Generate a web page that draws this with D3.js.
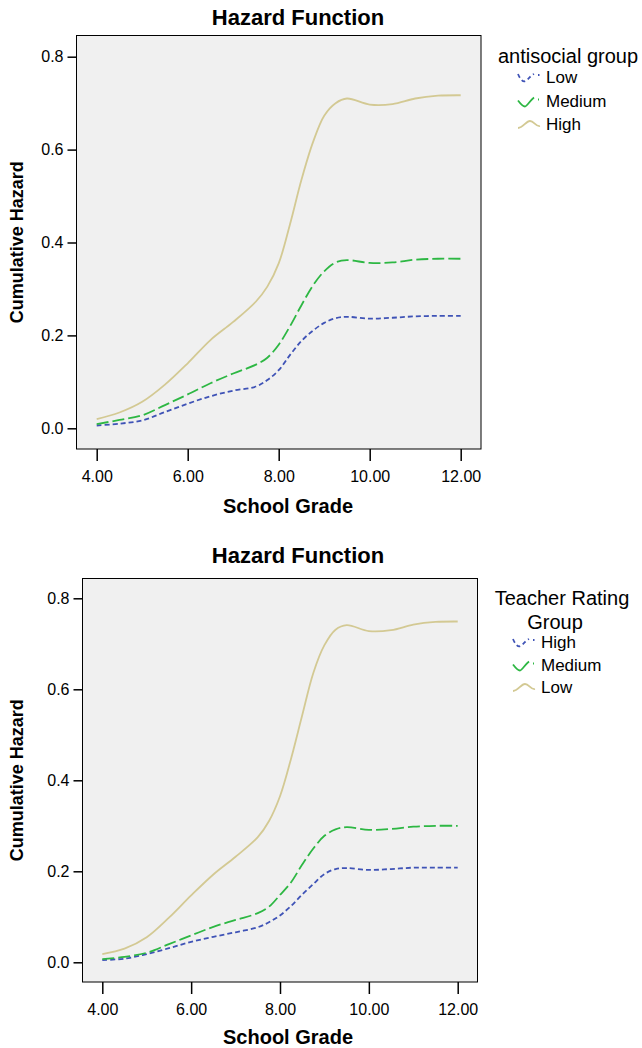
<!DOCTYPE html>
<html>
<head>
<meta charset="utf-8">
<script src="https://cdn.jsdelivr.net/npm/d3@7"></script>
<style>
  html, body { margin: 0; padding: 0; background: #fff; }
  svg { display: block; font-family: "Liberation Sans", Arial, Helvetica, sans-serif; }
</style>
</head>
<body>
<svg id="chart" width="642" height="1048"></svg>
<script>
// School grades at which the cumulative hazard is evaluated
const grades = [4, 4.5, 5, 5.5, 6, 6.5, 7, 7.5, 7.75, 8, 8.25, 8.5, 8.75, 9, 9.25, 9.5, 10, 10.5, 11, 11.5, 12];
const xTicks = [4, 6, 8, 10, 12];
const yTicks = [0.0, 0.2, 0.4, 0.6, 0.8];

// Panel 1: antisocial group
const antisocialGroups = ["Low", "Medium", "High"];
const antisocialLow    = [0.006, 0.010, 0.017, 0.035, 0.053, 0.069, 0.081, 0.090, 0.104, 0.125, 0.158, 0.188, 0.210, 0.227, 0.237, 0.240, 0.236, 0.238, 0.241, 0.242, 0.242];
const antisocialMedium = [0.009, 0.018, 0.028, 0.050, 0.073, 0.097, 0.118, 0.137, 0.152, 0.180, 0.220, 0.265, 0.307, 0.338, 0.357, 0.362, 0.356, 0.357, 0.363, 0.365, 0.365];
const antisocialHigh   = [0.020, 0.034, 0.057, 0.094, 0.140, 0.190, 0.229, 0.273, 0.305, 0.355, 0.440, 0.535, 0.615, 0.673, 0.700, 0.710, 0.697, 0.698, 0.710, 0.716, 0.717];

// Panel 2: teacher rating group
const teacherGroups = ["High", "Medium", "Low"];
const teacherHigh   = [0.005, 0.008, 0.018, 0.031, 0.045, 0.056, 0.066, 0.077, 0.088, 0.103, 0.124, 0.149, 0.172, 0.194, 0.205, 0.207, 0.203, 0.205, 0.208, 0.208, 0.208];
const teacherMedium = [0.007, 0.012, 0.021, 0.040, 0.059, 0.078, 0.093, 0.108, 0.122, 0.148, 0.176, 0.215, 0.250, 0.278, 0.292, 0.297, 0.291, 0.293, 0.298, 0.300, 0.300];
const teacherLow    = [0.018, 0.030, 0.055, 0.098, 0.147, 0.193, 0.232, 0.275, 0.310, 0.365, 0.448, 0.543, 0.636, 0.697, 0.731, 0.741, 0.728, 0.730, 0.742, 0.748, 0.749];

// Line styles by legend position (blue short dash, green long dash, tan solid)
const styles = [
  { color: "#3f53b6", dash: "5,3", width: 1.8 },
  { color: "#2db743", dash: "12,4", width: 1.8 },
  { color: "#d3c993", dash: null,  width: 1.8 }
];

const svg = d3.select("#chart");
const FONT = "Liberation Sans, Arial, sans-serif";

function drawPanel(p) {
  const g = svg.append("g");
  const x = d3.scaleLinear().domain([4, 12]).range([p.x4, p.x12]);
  const y = d3.scaleLinear().domain([0, 0.8]).range([p.y0, p.y08]);

  // Title
  g.append("text")
    .attr("x", 298).attr("y", p.titleY)
    .attr("text-anchor", "middle")
    .attr("font-size", 22).attr("font-weight", "bold")
    .text("Hazard Function");

  // Plot frame
  g.append("rect")
    .attr("x", p.left).attr("y", p.top)
    .attr("width", p.right - p.left).attr("height", p.bottom - p.top)
    .attr("fill", "#f0f0f0").attr("stroke", "#000").attr("stroke-width", 1);

  // Axes
  const yAxis = d3.axisLeft(y).tickValues(yTicks).tickFormat(d3.format(".1f")).tickSize(9).tickSizeOuter(0);
  const yg = g.append("g").attr("transform", `translate(${p.left},0)`).call(yAxis);
  yg.select(".domain").remove();
  yg.selectAll("line").attr("stroke", "#000").attr("stroke-width", 1.5);
  yg.selectAll("text").attr("font-size", 16).attr("fill", "#000").attr("dx", "-1").attr("font-family", FONT);

  const xAxis = d3.axisBottom(x).tickValues(xTicks).tickFormat(d3.format(".2f")).tickSize(12).tickSizeOuter(0);
  const xg = g.append("g").attr("transform", `translate(0,${p.bottom})`).call(xAxis);
  xg.select(".domain").remove();
  xg.selectAll("line").attr("stroke", "#000").attr("stroke-width", 1.5);
  xg.selectAll("text").attr("font-size", 16).attr("fill", "#000").attr("dy", "1.1em").attr("font-family", FONT);

  // Axis titles
  g.append("text")
    .attr("x", 288).attr("y", p.xTitleY)
    .attr("text-anchor", "middle")
    .attr("font-size", 20).attr("font-weight", "bold")
    .text("School Grade");
  g.append("text")
    .attr("transform", `translate(23,${(p.top + p.bottom) / 2}) rotate(-90)`)
    .attr("text-anchor", "middle")
    .attr("font-size", 18).attr("font-weight", "bold")
    .text("Cumulative Hazard");

  // Curves
  const line = d3.line()
    .x((d, i) => x(grades[i]))
    .y(d => y(d))
    .curve(d3.curveCatmullRom.alpha(0.5));

  p.series.forEach((vals, i) => {
    const s = styles[i];
    g.append("path")
      .datum(vals)
      .attr("d", line)
      .attr("fill", "none")
      .attr("stroke", s.color)
      .attr("stroke-width", s.width)
      .attr("stroke-dasharray", s.dash);
  });

  // Legend
  const lg = g.append("g");
  p.legendTitle.forEach((t, k) => {
    lg.append("text")
      .attr("x", p.legendTitleX[k]).attr("y", p.legendTitleY + k * 24)
      .attr("text-anchor", "middle")
      .attr("font-size", 20)
      .text(t);
  });
  const glyphs = [
    "M0,3 C3,10 6,12 9,9 S14,4 16,3 M20,4 L21.5,4",
    "M0,6 C3,10 5,12 7,12 S12,6 16,3 M20,5 L21,5",
    "M0,10 C5,10 8,3 12,3 S18,9 22,8"
  ];
  p.groups.forEach((name, i) => {
    const s = styles[i];
    const yy = p.legendY + i * p.legendStep;
    lg.append("path")
      .attr("d", glyphs[i])
      .attr("transform", `translate(${p.legendX},${yy - 12})`)
      .attr("fill", "none")
      .attr("stroke", s.color)
      .attr("stroke-width", s.width)
      .attr("stroke-dasharray", i === 0 ? "4,3" : null);
    lg.append("text")
      .attr("x", p.legendX + 28).attr("y", yy)
      .attr("font-size", 17)
      .text(name);
  });
}

drawPanel({
  left: 76.5, right: 481, top: 35.5, bottom: 449,
  x4: 96.7, x12: 460.7, y0: 428.3, y08: 56.7,
  titleY: 25, xTitleY: 513,
  series: [antisocialLow, antisocialMedium, antisocialHigh],
  groups: antisocialGroups,
  legendTitle: ["antisocial group"], legendTitleX: [568], legendTitleY: 63,
  legendX: 518, legendY: 83, legendStep: 23.5
});

drawPanel({
  left: 82.5, right: 477.5, top: 578.5, bottom: 982,
  x4: 102.3, x12: 457.7, y0: 962.3, y08: 598.3,
  titleY: 563, xTitleY: 1044,
  series: [teacherHigh, teacherMedium, teacherLow],
  groups: teacherGroups,
  legendTitle: ["Teacher Rating", "Group"], legendTitleX: [562, 555], legendTitleY: 605,
  legendX: 513, legendY: 648, legendStep: 22.5
});
</script>
</body>
</html>
